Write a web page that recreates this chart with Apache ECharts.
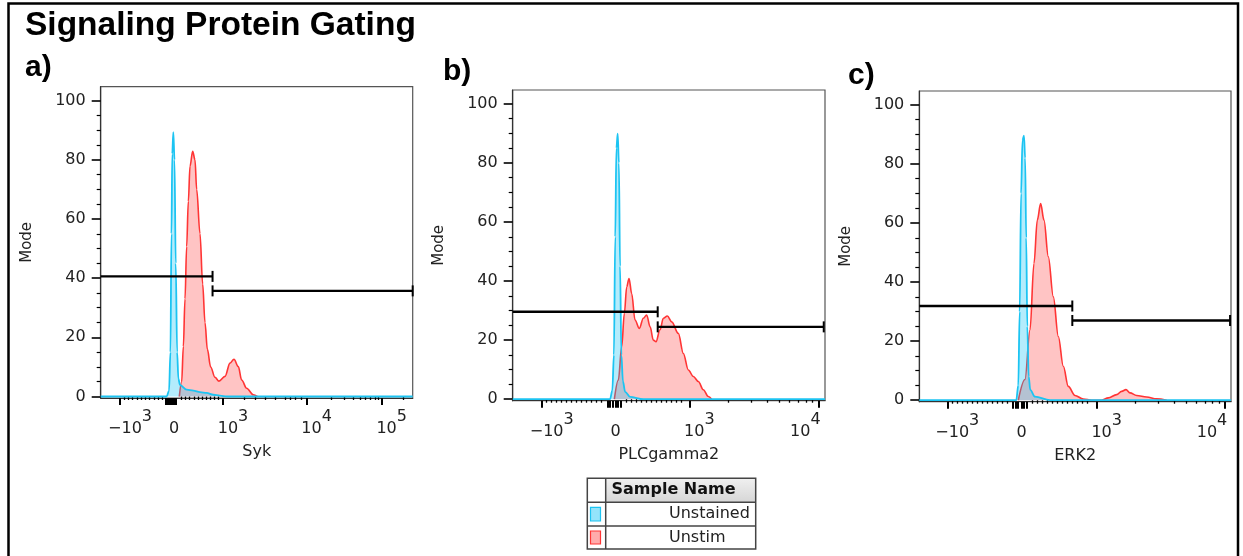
<!DOCTYPE html>
<html>
<head>
<meta charset="utf-8">
<script src="https://cdn.jsdelivr.net/npm/echarts@6/dist/echarts.min.js"></script>
<style>
html,body{margin:0;padding:0;background:#fff;}
#chart{width:1243px;height:556px;}
</style>
</head>
<body>
<div id="chart"></div>
<script>
// ---------------- DATA ----------------
const chartTitle = 'Signaling Protein Gating';
const panelLabels = ['a)', 'b)', 'c)'];
const channelNames = ['Syk', 'PLCgamma2', 'ERK2'];
const yAxisName = 'Mode';
const sampleNames = ['Unstained', 'Unstim'];
const tableHeader = 'Sample Name';

// y ticks (Mode, %)
const yTickValues = [0, 20, 40, 60, 80, 100];
const yMinorTickValues = [5, 10, 15, 25, 30, 35, 45, 50, 55, 65, 70, 75, 85, 90, 95];

// x axis: biexponential display channel scale (0..1000 across the plot)
const xMajorA = [61.9, 235, 392, 660, 900.6];
const xLabelBaseA = ['\u221210', '0', '10', '10', '10'];
const xLabelExpA = ['3', '', '3', '4', '5'];
const xZeroTicksA = [207, 214, 221, 228, 241];
const xMinorA = [76.9, 89.7, 102.6, 117.3, 130.1, 142.9, 157, 170.8, 184.6, 197.4,
  258.3, 271.2, 285.3, 299.0, 311.9, 324.7, 338.3, 351.1, 365.2, 378,
  461.5, 494.5, 527.2, 561, 590.7, 606.7, 625, 642,
  740.4, 780.8, 809.6, 831, 847, 863, 879.2, 889.7, 970];

const xMajorB = [92.9, 329.8, 565.5, 978.5];
const xLabelBaseB = ['\u221210', '0', '10', '10'];
const xLabelExpB = ['3', '', '3', '4'];
const xZeroTicksB = [303, 311, 319, 337, 345];
const xMinorB = [108.9, 124.9, 140.9, 156.9, 172.9, 188.9, 204.9, 220.9, 236.9, 253, 269, 285,
  365, 381, 397, 413, 429, 445, 461.1, 477.1, 493.1, 509.1, 525.1, 541.2,
  689.7, 762.4, 814.3, 854.3, 887, 914.5, 938.5, 959.6];

const xMajorC = [89.8, 328.5, 569.1, 980.7];
const xLabelBaseC = ['\u221210', '0', '10', '10'];
const xLabelExpC = ['3', '', '3', '4'];
const xZeroTicksC = [300, 308, 316, 336, 344];
const xMinorC = [105.9, 121.9, 137.9, 154, 170, 186.1, 202.1, 218.1, 234.2, 250.2, 266.3, 282.3,
  363.8, 379.8, 395.9, 411.9, 427.9, 444, 460, 476.1, 492.1, 508.1, 524.2, 540.2,
  692.9, 765.4, 817.1, 856.9, 889.3, 916.9, 941, 961.8];

// histograms: [display channel, % of mode]
const unstainedA = [[0,0],[211.5,0],[219,2],[223.5,15],[226.8,55],[229.3,82],[232.8,89.3],[236.5,80],[240.5,45],[245,15],[249,6],[254.2,3.9],[275.5,2.3],[297,2],[318.3,1.5],[339.6,1.2],[361,0.6],[382,0.3],[403.7,0],[1000,0]];
const unstimA = [[252,0],[259.5,5],[264.9,16.9],[270.2,33],[275.5,50.7],[280.9,66],[286.2,77.8],[294.8,82.9],[302.2,80],[307.6,70],[318.3,55],[326.8,38],[334.3,25],[341.8,16],[352.4,10],[366.3,6.5],[379,5.2],[398.4,6.8],[414.4,11.3],[427.2,12.6],[441.1,10.1],[451.8,5.6],[467.8,2.8],[489.1,0.6],[502,0]];

const unstainedB = [[0,0],[311.6,0],[319,3],[324,15],[328.3,55],[332,85],[336.2,89.9],[340,80],[343.8,45],[348,15],[353,6],[360,2.5],[375.7,0.8],[418.3,0],[1000,0]];
const unstimB = [[325.5,0],[338.3,6.5],[349,17.8],[357.5,29],[365,38],[372.5,40.9],[381,35.8],[391.7,26.8],[405.5,24],[418.3,27.4],[429,28.5],[440,24.5],[450.4,20],[458.9,19.5],[471.7,23.5],[482.4,27.4],[495.2,28.2],[509,26.2],[530.4,22.3],[546.4,15.5],[562.4,9.9],[578.4,7.7],[594.4,6],[610.4,3.2],[626.4,0.9],[637.1,0]];

const unstainedC = [[0,0],[311,0],[317.5,5],[322,30],[326.5,70],[331,88],[335.8,89.6],[339.5,82],[343,55],[346.5,25],[351,8],[356,3.5],[371.1,1.2],[419.2,0],[1000,0]];
const unstimC = [[317.6,0],[339,7],[355.1,23.8],[367.9,46.3],[378.6,61],[389.3,66.6],[400,61],[413.9,48.6],[430,35],[446,21.6],[462,11.5],[478,4.7],[499.4,1.6],[526.2,0.4],[553,0],[585,0],[606.4,0.8],[633.1,1.9],[649.2,3],[663.1,3.6],[676,2.5],[697.3,1.6],[729.4,1.1],[761.5,0.45],[793.6,0]];

// gates: [from channel, to channel, mode level]
const gatesA = [[0, 358.5, 40.6], [358.5, 1000, 35.7]];
const gatesB = [[0, 464.3, 29.6], [464.3, 996, 24.5]];
const gatesC = [[0, 490.9, 31.9], [490.9, 997, 27.0]];

// ---------------- LAYOUT / STYLE ----------------
const FONT = 'DejaVu Sans';
const TXT = '#222';
const CYAN_LINE = '#1cc4f2', CYAN_FILL = 'rgba(0,190,245,0.42)';
const RED_LINE = '#ff3535', RED_FILL = 'rgba(255,0,0,0.33)';

const panels = [
  {grid:{left:100.7, top:86.7, width:312, height:311.3}, lbl:[25,68], lastLeft:false,
   major:xMajorA, base:xLabelBaseA, exp:xLabelExpA, zero:xZeroTicksA, minor:xMinorA,
   un:unstainedA, st:unstimA, gates:gatesA},
  {grid:{left:512.7, top:90, width:312.3, height:310.7}, lbl:[443,72], lastLeft:true,
   major:xMajorB, base:xLabelBaseB, exp:xLabelExpB, zero:xZeroTicksB, minor:xMinorB,
   un:unstainedB, st:unstimB, gates:gatesB},
  {grid:{left:919.3, top:91, width:311.7, height:310.7}, lbl:[848,76], lastLeft:true,
   major:xMajorC, base:xLabelBaseC, exp:xLabelExpC, zero:xZeroTicksC, minor:xMinorC,
   un:unstainedC, st:unstimC, gates:gatesC}
];

const grids = [], xAxes = [], yAxes = [], series = [], graphics = [];

panels.forEach((p, i) => {
  grids.push(Object.assign({show:true, borderColor:'#555', borderWidth:1.2, backgroundColor:'#fff', containLabel:false, outerBoundsMode:'none'}, p.grid));
  const n = p.major.length;
  xAxes.push({
    gridIndex:i, type:'value', min:0, max:1000,
    name:channelNames[i], nameLocation:'middle', nameGap:46,
    nameTextStyle:{fontFamily:FONT, fontSize:16, color:TXT},
    axisLine:{show:true, onZero:false, lineStyle:{color:'#333', width:1.2}},
    splitLine:{show:false},
    axisTick:{show:true, customValues:p.major.concat(p.zero), length:7, lineStyle:{color:'#000', width:2}},
    axisLabel:{
      show:true, customValues:p.major, margin:11, hideOverlap:false, showMinLabel:true, showMaxLabel:true,
      formatter:function(v){
        let k = p.major.findIndex(m => Math.abs(m - v) < 0.01);
        if (k < 0) return '';
        const e = p.exp[k];
        if (!e) return '{z|' + p.base[k] + '}';
        const st = (p.lastLeft && k === n - 1) ? 'bl' : 'br';
        return '{' + st + '|' + p.base[k] + '}{s|' + e + '}' + (st === 'bl' ? '{pr|}' : '');
      },
      rich:{
        z:{fontFamily:FONT, fontSize:16, color:TXT, lineHeight:28, verticalAlign:'bottom'},
        br:{fontFamily:FONT, fontSize:16, color:TXT, lineHeight:28, verticalAlign:'bottom', padding:[0,0,0,20]},
        bl:{fontFamily:FONT, fontSize:16, color:TXT, lineHeight:28, verticalAlign:'bottom'},
        pr:{width:26, lineHeight:28},
        s:{fontFamily:FONT, fontSize:16, color:TXT, lineHeight:28, verticalAlign:'top'}
      }
    }
  });
  xAxes.push({
    gridIndex:i, type:'value', min:0, max:1000, position:'bottom',
    axisLine:{show:false}, splitLine:{show:false}, axisLabel:{show:false},
    axisTick:{show:true, customValues:p.minor, length:3.5, lineStyle:{color:'#000', width:1.3}}
  });
  yAxes.push({
    gridIndex:i, type:'value', min:-0.5, max:104.7, position:'left',
    name:yAxisName, nameLocation:'middle', nameGap:66, nameRotate:90,
    nameTextStyle:{fontFamily:FONT, fontSize:15, color:TXT},
    axisLine:{show:true, lineStyle:{color:'#333', width:1.2}},
    splitLine:{show:false},
    axisTick:{show:true, customValues:yTickValues, length:9, lineStyle:{color:'#000', width:1.6}},
    axisLabel:{show:true, customValues:yTickValues, margin:15, fontFamily:FONT, fontSize:16, color:TXT}
  });
  yAxes.push({
    gridIndex:i, type:'value', min:-0.5, max:104.7, position:'left', offset:0,
    axisLine:{show:false}, splitLine:{show:false}, axisLabel:{show:false},
    axisTick:{show:true, customValues:yMinorTickValues, length:4, lineStyle:{color:'#000', width:1.2}}
  });
  const xi = i * 2, yi = i * 2;
  series.push({
    name:sampleNames[1], type:'line', xAxisIndex:xi, yAxisIndex:yi, data:p.st,
    smooth:0.35, smoothMonotone:'x', symbol:'none', z:2,
    lineStyle:{color:RED_LINE, width:1.6}, areaStyle:{color:RED_FILL, origin:0}
  });
  series.push({
    name:sampleNames[0], type:'line', xAxisIndex:xi, yAxisIndex:yi, data:p.un,
    smooth:0.35, smoothMonotone:'x', symbol:'none', z:3,
    lineStyle:{color:CYAN_LINE, width:1.8}, areaStyle:{color:CYAN_FILL, origin:0}
  });
  series.push({
    type:'custom', xAxisIndex:xi, yAxisIndex:yi, data:p.gates, z:5, clip:false,
    encode:{x:[0,1], y:2},
    renderItem:function(params, api){
      const x1 = api.value(0), x2 = api.value(1), y = api.value(2);
      const a = api.coord([x1, y]), b = api.coord([x2, y]);
      const st = {stroke:'#000', lineWidth:2.4};
      const cap = 5.5;
      const ch = [{type:'line', shape:{x1:a[0], y1:a[1], x2:b[0], y2:b[1]}, style:st}];
      if (x1 > 0) ch.push({type:'line', shape:{x1:a[0], y1:a[1]-cap, x2:a[0], y2:a[1]+cap}, style:{stroke:'#000', lineWidth:2}});
      ch.push({type:'line', shape:{x1:b[0], y1:b[1]-cap, x2:b[0], y2:b[1]+cap}, style:{stroke:'#000', lineWidth:2}});
      return {type:'group', children:ch};
    }
  });
  graphics.push({type:'text', x:p.lbl[0], y:p.lbl[1], z:10,
    style:{text:panelLabels[i], fontFamily:'Liberation Sans', fontWeight:'bold', fontSize:30, fill:'#000', textAlign:'left', textVerticalAlign:'middle'}});
});

// outer frame and title
graphics.push({type:'rect', shape:{x:8.5, y:3.5, width:1229.5, height:600}, style:{fill:'none', stroke:'#000', lineWidth:2.5}, z:0});
graphics.push({type:'text', x:25, y:26, z:10,
  style:{text:chartTitle, fontFamily:'Liberation Sans', fontWeight:'bold', fontSize:33.5, fill:'#000', textAlign:'left', textVerticalAlign:'middle'}});

// sample table (legend)
const T = {x0:587.3, x1:605.7, x2:755.7, y0:478.3, y1:502.3, y2:526, y3:549};
graphics.push({type:'rect', shape:{x:T.x1, y:T.y0, width:T.x2-T.x1, height:T.y1-T.y0},
  style:{fill:new echarts.graphic.LinearGradient(0,0,0,1,[{offset:0,color:'#f0f0f0'},{offset:1,color:'#d6d6d6'}]), stroke:null}, z:20});
graphics.push({type:'rect', shape:{x:T.x0, y:T.y0, width:T.x2-T.x0, height:T.y3-T.y0}, style:{fill:'none', stroke:'#444', lineWidth:1.5}, z:21});
graphics.push({type:'line', shape:{x1:T.x0, y1:T.y1, x2:T.x2, y2:T.y1}, style:{stroke:'#444', lineWidth:1.5}, z:21});
graphics.push({type:'line', shape:{x1:T.x0, y1:T.y2, x2:T.x2, y2:T.y2}, style:{stroke:'#444', lineWidth:1.5}, z:21});
graphics.push({type:'line', shape:{x1:T.x1, y1:T.y0, x2:T.x1, y2:T.y3}, style:{stroke:'#444', lineWidth:1.5}, z:21});
graphics.push({type:'text', x:611.5, y:(T.y0+T.y1)/2, z:22,
  style:{text:tableHeader, fontFamily:FONT, fontWeight:'bold', fontSize:16, fill:'#111', textAlign:'left', textVerticalAlign:'middle'}});
const swatch = [[CYAN_FILL, CYAN_LINE], [RED_FILL, RED_LINE]];
[[T.y1, T.y2], [T.y2, T.y3]].forEach((r, k) => {
  graphics.push({type:'rect', shape:{x:590.5, y:r[0]+5, width:10, height:r[1]-r[0]-10},
    style:{fill:swatch[k][0], stroke:swatch[k][1], lineWidth:1.2}, z:22});
  graphics.push({type:'text', x:669, y:(r[0]+r[1])/2, z:22,
    style:{text:sampleNames[k], fontFamily:FONT, fontSize:16, fill:'#222', textAlign:'left', textVerticalAlign:'middle'}});
});

const chart = echarts.init(document.getElementById('chart'), null, {renderer:'canvas'});
chart.setOption({
  backgroundColor:'#fff',
  animation:false,
  grid:grids, xAxis:xAxes, yAxis:yAxes, series:series, graphic:graphics
});
</script>
</body>
</html>
